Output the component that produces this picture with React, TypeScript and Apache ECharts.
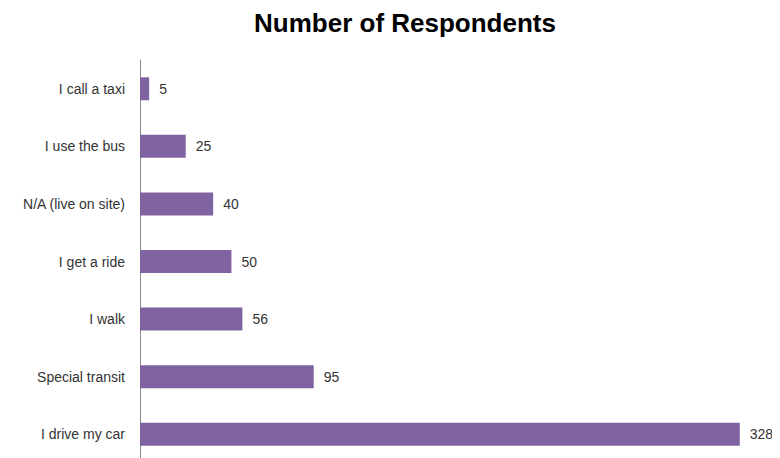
import React, { useEffect, useRef } from "react";
import * as echarts from "echarts";

const categories = [
  "I call a taxi",
  "I use the bus",
  "N/A (live on site)",
  "I get a ride",
  "I walk",
  "Special transit",
  "I drive my car",
];
const respondents = [5, 25, 40, 50, 56, 95, 328];
const titleText = "Number of Respondents";

export default function App() {
  const ref = useRef<HTMLDivElement>(null);
  useEffect(() => {
    if (!ref.current) return;
    const chart = echarts.init(ref.current, null, { renderer: "svg" });
    chart.setOption({
      animation: false,
      backgroundColor: "#ffffff",
      title: {
        text: titleText,
        left: 400,
        top: 5,
        textAlign: "center",
        textStyle: {
          fontFamily: "Liberation Sans",
          fontWeight: "bold",
          fontSize: 26,
          color: "#000000",
        },
      },
      grid: { left: 140, right: 0, top: 60, height: 403, containLabel: false },
      xAxis: {
        type: "value",
        min: 0,
        max: 350,
        show: false,
      },
      yAxis: {
        type: "category",
        data: categories,
        inverse: true,
        axisLine: { show: true, lineStyle: { color: "#8c8c8c", width: 1 } },
        axisTick: { show: false },
        splitLine: { show: false },
        axisLabel: {
          margin: 15,
          fontFamily: "Liberation Sans",
          fontSize: 14,
          color: "#333333",
        },
      },
      series: [
        {
          type: "bar",
          data: respondents,
          barWidth: 23,
          itemStyle: { color: "#8064A2" },
          label: {
            show: true,
            position: "right",
            distance: 10,
            fontFamily: "Liberation Sans",
            fontSize: 14,
            color: "#333333",
          },
        },
      ],
    });
    return () => chart.dispose();
  }, []);
  return <div ref={ref} style={{ width: 780, height: 480, margin: -8 }} />;
}
